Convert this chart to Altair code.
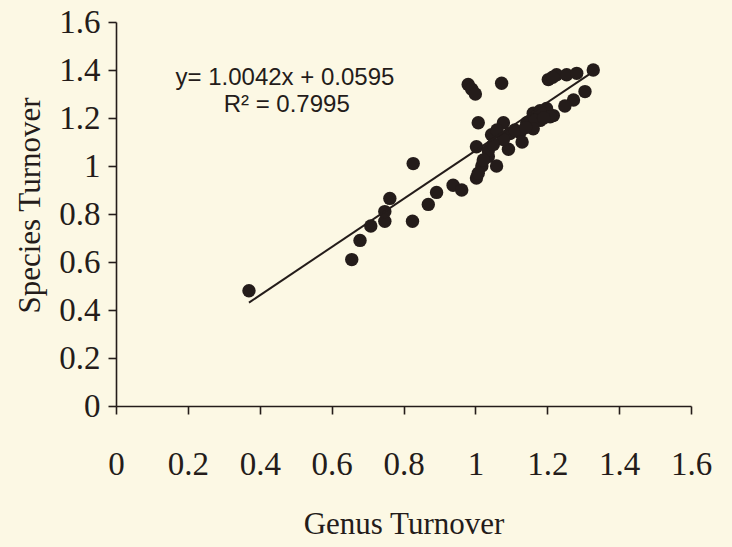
import altair as alt
import pandas as pd

# Values
genus = [0.37, 0.656, 0.679, 0.709, 0.748, 0.748, 0.762, 0.825, 0.827, 0.869,
         0.892, 0.938, 0.962, 1.003, 1.003, 1.018, 1.059, 1.036, 1.092, 1.077,
         1.124, 0.98, 0.99, 1.0, 1.073, 1.203, 1.226, 1.254, 1.282, 1.328,
         1.305, 1.273, 1.249, 1.008, 1.078, 1.045, 1.036, 1.008, 1.143, 1.161,
         1.198, 1.217, 1.096, 1.18, 1.078, 1.022, 1.18, 1.208, 1.166, 1.161,
         1.11, 1.13, 1.05, 1.06, 1.215, 1.14, 1.19]
species = [0.48, 0.61, 0.69, 0.75, 0.77, 0.81, 0.865, 0.77, 1.01, 0.84,
           0.89, 0.92, 0.90, 0.95, 1.08, 1.00, 1.00, 1.04, 1.07, 1.12,
           1.14, 1.34, 1.32, 1.30, 1.345, 1.36, 1.38, 1.38, 1.386, 1.40,
           1.31, 1.275, 1.25, 1.18, 1.18, 1.13, 1.065, 0.97, 1.18, 1.22,
           1.24, 1.21, 1.135, 1.19, 1.11, 1.025, 1.23, 1.205, 1.19, 1.155,
           1.15, 1.10, 1.09, 1.15, 1.37, 1.16, 1.20]

slope = 1.0042
intercept = 0.0595
r_squared = 0.7995
line_x = [0.37, 1.33]
tick_values = [0, 0.2, 0.4, 0.6, 0.8, 1.0, 1.2, 1.4, 1.6]

eq_text = ["y= 1.0042x + 0.0595", "R\u00b2 = 0.7995"]
eq_x = [0.47, 0.475]
eq_y = [1.367, 1.254]

INK = "#241c1a"
BG = "#fcf8e4"

pts = pd.DataFrame({"Genus Turnover": genus, "Species Turnover": species})
line_df = pd.DataFrame({"Genus Turnover": line_x})
txt_df = pd.DataFrame({"t": eq_text, "x": eq_x, "y": eq_y})

xscale = alt.Scale(domain=[0, 1.6], nice=False, zero=False)
yscale = alt.Scale(domain=[0, 1.6], nice=False, zero=False)

xaxis = alt.Axis(values=tick_values, format="~g", title="Genus Turnover",
                 labelPadding=34, titlePadding=28, labelFlush=False,
                 titleFontSize=31)
yaxis = alt.Axis(values=tick_values, format="~g", title="Species Turnover",
                 labelPadding=8, titlePadding=12, labelFlush=False,
                 titleY=183, titleFontSize=31)

points = alt.Chart(pts).mark_circle(size=180, opacity=1, color=INK).encode(
    x=alt.X("Genus Turnover:Q", scale=xscale, axis=xaxis),
    y=alt.Y("Species Turnover:Q", scale=yscale, axis=yaxis),
)

line = alt.Chart(line_df).transform_calculate(
    fit=f"{slope} * datum['Genus Turnover'] + {intercept}"
).mark_line(color=INK, strokeWidth=2).encode(
    x=alt.X("Genus Turnover:Q", scale=xscale),
    y=alt.Y("fit:Q", scale=yscale),
)

text = alt.Chart(txt_df).mark_text(
    font="Liberation Sans", fontSize=24, color=INK, align="center",
    baseline="middle"
).encode(
    x=alt.X("x:Q", scale=xscale),
    y=alt.Y("y:Q", scale=yscale),
    text="t:N",
)

chart = alt.layer(points, line, text).properties(
    width=575, height=384,
    autosize=alt.AutoSizeParams(type="none"),
    padding={"left": 116, "top": 22, "right": 41, "bottom": 141},
    background=BG,
).configure_view(stroke=None).configure_axis(
    grid=False,
    domainColor=INK, domainWidth=1.6,
    tickColor=INK, tickWidth=1.6, tickSize=8,
    labelFont="Liberation Serif", labelFontSize=33, labelColor=INK,
    titleFont="Liberation Serif", titleColor=INK,
    titleFontWeight="normal",
)

chart.save("out.html", embed_options={"renderer": "svg", "actions": False})
